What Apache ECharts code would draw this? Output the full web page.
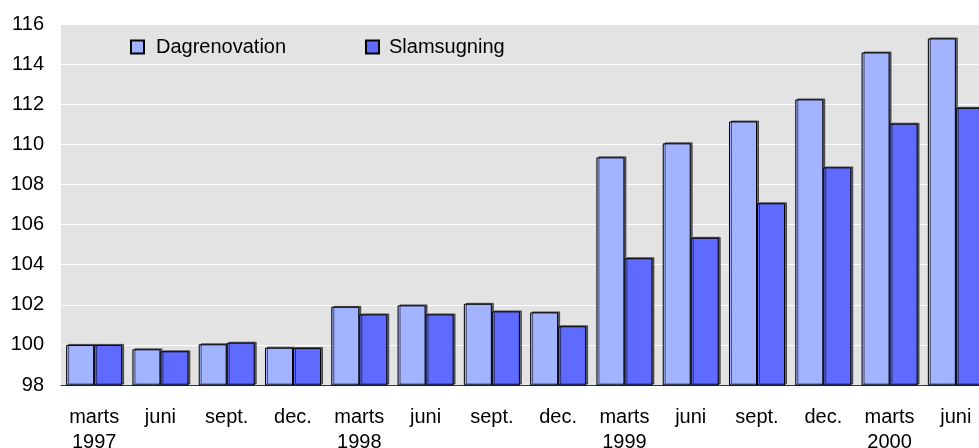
<!DOCTYPE html>
<html>
<head>
<meta charset="utf-8">
<script src="https://cdn.jsdelivr.net/npm/echarts@6/dist/echarts.min.js"></script>
<style>
  html, body { margin: 0; padding: 0; background: #fff; }
  #chart { width: 979px; height: 448px; }
</style>
</head>
<body>
<div id="chart"></div>
<script>
// kvartaler
const categories = ['marts\n1997', 'juni', 'sept.', 'dec.', 'marts\n1998', 'juni', 'sept.', 'dec.',
  'marts\n1999', 'juni', 'sept.', 'dec.', 'marts\n2000', 'juni'];
const dagrenovation = [100.0, 99.78, 100.03, 99.86, 101.9, 101.97, 102.05, 101.62,
  109.35, 110.05, 111.14, 112.24, 114.58, 115.28];
const slamsugning = [100.0, 99.68, 100.11, 99.84, 101.52, 101.52, 101.67, 100.93,
  104.32, 105.34, 107.06, 108.85, 111.03, 111.82];
const yMin = 98, yMax = 116, yStep = 2;

const font = 'Liberation Sans, Arial, sans-serif';
const barStyle = (color) => ({
  color: color,
  borderColor: '#000',
  borderWidth: 1,
  shadowColor: 'rgba(0,0,0,0.55)',
  shadowOffsetX: 2,
  shadowOffsetY: -1,
  shadowBlur: 0
});

const chart = echarts.init(document.getElementById('chart'));
chart.setOption({
  animation: false,
  backgroundColor: '#fff',
  textStyle: { fontFamily: font, color: '#000' },
  grid: { left: 61, right: -10, top: 24, bottom: 63, show: true, backgroundColor: '#e3e3e3', borderWidth: 0,
    containLabel: false, outerBoundsMode: 'none' },
  legend: [
    { data: ['Dagrenovation'], left: 125, top: 32, itemWidth: 13, itemHeight: 13, icon: 'rect',
      textStyle: { fontFamily: font, fontSize: 20, color: '#000', padding: [0, 0, 0, 7] } },
    { data: ['Slamsugning'], left: 360, top: 32, itemWidth: 13, itemHeight: 13, icon: 'rect',
      textStyle: { fontFamily: font, fontSize: 20, color: '#000', padding: [0, 0, 0, 5] } }
  ],
  xAxis: {
    type: 'category',
    data: categories,
    axisLine: { lineStyle: { color: '#333', width: 1 } },
    axisTick: { show: false },
    axisLabel: { fontFamily: font, fontSize: 20, color: '#000', lineHeight: 25, margin: 20, interval: 0 }
  },
  yAxis: {
    type: 'value',
    min: yMin, max: yMax, interval: yStep,
    axisLine: { show: false },
    axisTick: { show: false },
    splitLine: { lineStyle: { color: '#fff', width: 1 } },
    axisLabel: { fontFamily: font, fontSize: 20, color: '#000', margin: 17 }
  },
  series: [
    { name: 'Dagrenovation', type: 'bar', data: dagrenovation, barGap: 0, barCategoryGap: '15.5%',
      itemStyle: barStyle('#a2b3ff') },
    { name: 'Slamsugning', type: 'bar', data: slamsugning, barGap: 0, barCategoryGap: '15.5%',
      itemStyle: barStyle('#5f6bff') }
  ]
});
</script>
</body>
</html>
